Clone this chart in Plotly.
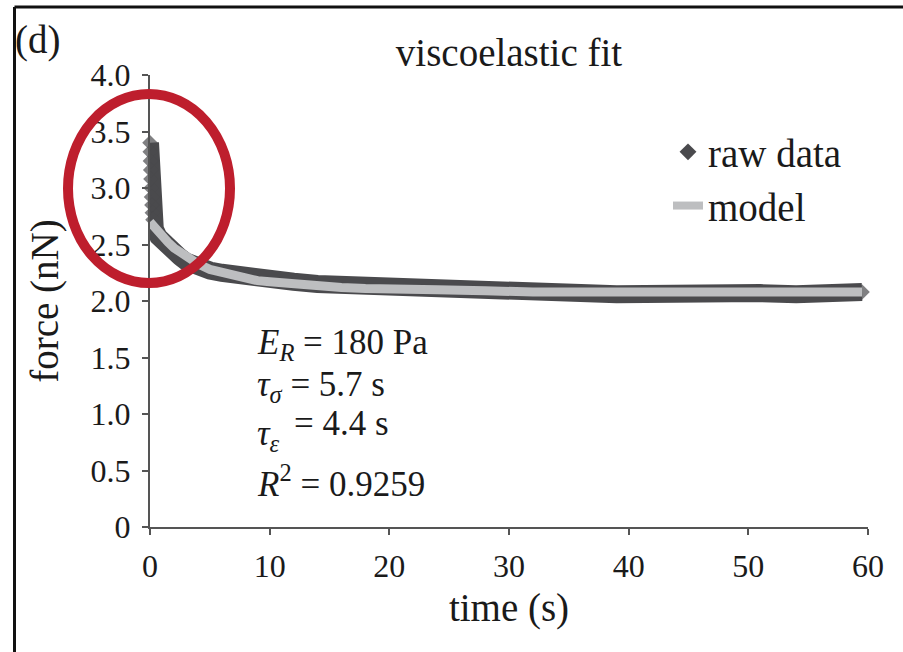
import plotly.graph_objects as go

# ---------------- data ----------------
raw_t = [0, 0.02, 0.04, 0.06, 0.08, 0.10, 0.13, 0.16, 0.20, 0.25, 0.4, 0.7, 1, 1.5, 2, 2.5, 3, 4, 5, 6, 7, 8,
         10, 12, 14, 16, 18, 20, 22, 24, 26, 28, 28.5, 30, 33, 36, 39, 42, 45, 48, 51, 54, 57, 59.5]
raw_f = [3.40, 3.32, 3.24, 3.16, 3.08, 3.00, 2.92, 2.85, 2.78, 2.72, 2.64, 2.57, 2.53, 2.48, 2.43, 2.39, 2.35,
         2.30, 2.27, 2.25, 2.23, 2.21, 2.19, 2.17, 2.15, 2.14, 2.13, 2.12, 2.12, 2.12, 2.12, 2.11, 2.07, 2.07,
         2.07, 2.07, 2.06, 2.07, 2.07, 2.06, 2.07, 2.06, 2.07, 2.08]

model_t = [0, 0.5, 1, 1.5, 2, 2.5, 3, 4, 5, 6, 7, 8, 9, 10, 11, 12, 14, 16, 18, 20, 24, 28, 32, 40, 50, 59.5]
model_f = [2.70, 2.63, 2.57, 2.52, 2.47, 2.43, 2.39, 2.33, 2.28, 2.25, 2.22, 2.20, 2.18, 2.17, 2.16, 2.15,
           2.13, 2.12, 2.11, 2.11, 2.10, 2.09, 2.08, 2.08, 2.08, 2.08]

x_ticks = [0, 10, 20, 30, 40, 50, 60]
y_ticks = [0, 0.5, 1.0, 1.5, 2.0, 2.5, 3.0, 3.5, 4.0]
y_ticktext = ["0", "0.5", "1.0", "1.5", "2.0", "2.5", "3.0", "3.5", "4.0"]

# ---------------- layout helpers (pixel -> paper) ----------------
W, H = 903, 652
L, R, T, B = 150, 868, 75, 527


def px(xp):
    return (xp - L) / (R - L)


def py(yp):
    return (B - yp) / (B - T)


FONT = "Liberation Serif, Times New Roman, serif"
TXT = "#1a1a1a"
DARK = "#4a4a4d"
LIGHT = "#bdbec0"
BIG = 39
ANN = 35
TICK = 32

fig = go.Figure()

# raw data band
sizes = [12 if (t <= 0.25 or t == raw_t[-1]) else 0 for t in raw_t]
fig.add_trace(go.Scatter(
    x=raw_t, y=raw_f, mode="lines+markers", name="raw data", showlegend=False,
    line=dict(color=DARK, width=18),
    marker=dict(symbol="diamond", size=sizes, color=DARK, line=dict(width=0)),
    cliponaxis=False,
))
# model line
fig.add_trace(go.Scatter(
    x=model_t, y=model_f, mode="lines", name="model", showlegend=False,
    line=dict(color=LIGHT, width=9),
))
# legend entries
fig.add_trace(go.Scatter(
    x=[None], y=[None], mode="markers", name="raw data", legendgroup="a",
    marker=dict(symbol="diamond", size=13, color=DARK),
))
fig.add_trace(go.Scatter(
    x=[None], y=[None], mode="lines", name="model", legendgroup="b",
    line=dict(color=LIGHT, width=8),
))

annotations = [
    dict(text="(d)", x=px(13), y=py(40), xanchor="left", yanchor="middle", font=dict(size=BIG)),
    dict(text="<i>E</i><sub><i>R</i></sub> = 180 Pa", x=px(255), y=py(345), xanchor="left", yanchor="middle"),
    dict(text="<i>τ</i><sub><i>σ</i></sub> = 5.7 s", x=px(255), y=py(386), xanchor="left", yanchor="middle"),
    dict(text="<i>τ</i><sub><i>ε</i></sub>", x=px(255), y=py(435), xanchor="left", yanchor="middle"),
    dict(text="= 4.4 s", x=px(292), y=py(423), xanchor="left", yanchor="middle"),
    dict(text="<i>R</i><sup>2</sup> = 0.9259", x=px(255), y=py(481), xanchor="left", yanchor="middle"),
]
for a in annotations:
    a.update(xref="paper", yref="paper", showarrow=False)
    a.setdefault("font", dict(size=ANN))
    a["font"].update(family=FONT, color=TXT)

shapes = [
    # frame (left + top edges)
    dict(type="line", xref="paper", yref="paper", x0=px(14.5), x1=px(14.5), y0=py(7), y1=py(660),
         line=dict(color="#111", width=3)),
    dict(type="line", xref="paper", yref="paper", x0=px(14.5), x1=px(910), y0=py(7), y1=py(7),
         line=dict(color="#111", width=3)),
    # red highlight ellipse
    dict(type="circle", xref="paper", yref="paper", x0=px(68), x1=px(230), y0=py(283), y1=py(94),
         line=dict(color="#be1e2d", width=10)),
]

axis_common = dict(
    showline=True, linecolor="#555", linewidth=2, ticks="outside", ticklen=6, tickwidth=1.5,
    tickcolor="#555", showgrid=False, zeroline=False,
    tickfont=dict(family=FONT, size=TICK, color=TXT),
)

fig.update_layout(
    width=W, height=H,
    margin=dict(l=L, r=W - R, t=T, b=H - B, pad=0),
    paper_bgcolor="white", plot_bgcolor="white",
    title=dict(text="viscoelastic fit", x=0.5, xref="paper", xanchor="center",
               y=1 - 52 / H, yref="container", yanchor="middle",
               font=dict(family=FONT, size=BIG, color=TXT)),
    xaxis=dict(range=[0, 60], tickvals=x_ticks, ticklabelstandoff=4,
               title=dict(text="time (s)", font=dict(family=FONT, size=BIG, color=TXT), standoff=10),
               **axis_common),
    yaxis=dict(range=[0, 4], tickvals=y_ticks, ticktext=y_ticktext, ticklabelstandoff=5,
               title=dict(text="force (nN)", font=dict(family=FONT, size=BIG, color=TXT), standoff=20),
               **axis_common),
    legend=dict(x=px(668), y=py(120), xanchor="left", yanchor="top", bgcolor="rgba(0,0,0,0)",
                font=dict(family=FONT, size=BIG, color=TXT), traceorder="grouped", tracegroupgap=0),
    annotations=annotations,
    shapes=shapes,
    showlegend=True,
)

fig.write_html("out.html")
